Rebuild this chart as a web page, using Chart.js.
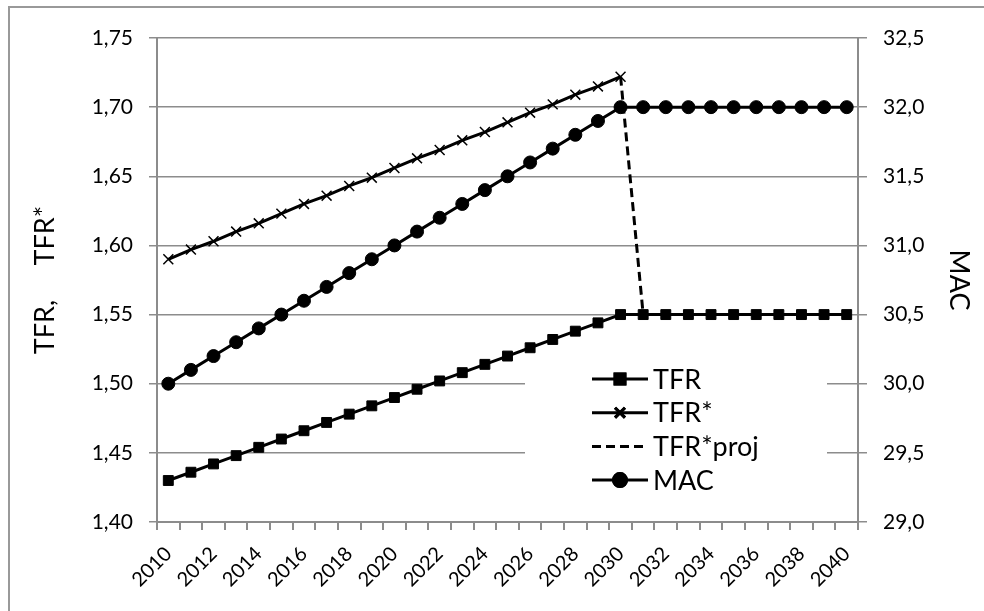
<!DOCTYPE html>
<html>
<head>
<meta charset="utf-8">
<script src="https://cdn.jsdelivr.net/npm/chart.js@4"></script>
<style>
  html, body { margin: 0; padding: 0; background: #fff; overflow: hidden; }
  canvas { display: block; }
</style>
</head>
<body>
<canvas id="myChart" width="984" height="611"></canvas>
<script>
var years = ['2010','2011','2012','2013','2014','2015','2016','2017','2018','2019','2020',
             '2021','2022','2023','2024','2025','2026','2027','2028','2029','2030',
             '2031','2032','2033','2034','2035','2036','2037','2038','2039','2040'];

var tfr = [1.430,1.436,1.442,1.448,1.454,1.460,1.466,1.472,1.478,1.484,1.490,
           1.496,1.502,1.508,1.514,1.520,1.526,1.532,1.538,1.544,1.550,
           1.550,1.550,1.550,1.550,1.550,1.550,1.550,1.550,1.550,1.550];

var tfrStar = [1.590,1.597,1.603,1.610,1.616,1.623,1.630,1.636,1.643,1.649,1.656,
               1.663,1.669,1.676,1.682,1.689,1.696,1.702,1.709,1.715,1.722,
               null,null,null,null,null,null,null,null,null,null];

var tfrStarProj = [null,null,null,null,null,null,null,null,null,null,null,
                   null,null,null,null,null,null,null,null,null,1.722,
                   1.550,1.550,1.550,1.550,1.550,1.550,1.550,1.550,1.550,1.550];

var mac = [30.0,30.1,30.2,30.3,30.4,30.5,30.6,30.7,30.8,30.9,31.0,
           31.1,31.2,31.3,31.4,31.5,31.6,31.7,31.8,31.9,32.0,
           32.0,32.0,32.0,32.0,32.0,32.0,32.0,32.0,32.0,32.0];

var gridColor = '#8c8c8c';
Chart.defaults.font.family = 'Lato';
Chart.defaults.color = '#000';

// white background + frame on top/left
const framePlugin = {
  id: 'frame',
  beforeDraw(chart) {
    const ctx = chart.ctx;
    ctx.save();
    ctx.fillStyle = '#fff';
    ctx.fillRect(0, 0, chart.width, chart.height);
    ctx.strokeStyle = '#999';
    ctx.lineWidth = 2;
    ctx.beginPath();
    ctx.moveTo(9, chart.height + 5);
    ctx.lineTo(9, 7);
    ctx.lineTo(chart.width + 5, 7);
    ctx.stroke();
    ctx.restore();
  }
};

// legend drawn inside the plot area
const innerLegend = {
  id: 'innerLegend',
  afterDraw(chart) {
    const ctx = chart.ctx;
    const area = chart.chartArea;
    const x0 = area.left + 368, y0 = 355;
    ctx.save();
    ctx.fillStyle = '#fff';
    ctx.fillRect(x0, y0, 302, 145);
    const lx1 = x0 + 67, lx2 = x0 + 123;
    chart.data.datasets.forEach(function (ds, i) {
      const y = 379 + i * 33.7;
      ctx.strokeStyle = '#000';
      ctx.lineWidth = 3;
      ctx.setLineDash(ds.borderDash || []);
      ctx.beginPath();
      ctx.moveTo(lx1, y);
      ctx.lineTo(lx2, y);
      ctx.stroke();
      ctx.setLineDash([]);
      if (ds.pointStyle && ds.pointRadius > 0) {
        Chart.helpers.drawPoint(ctx, {
          pointStyle: ds.pointStyle,
          radius: ds.pointRadius,
          borderWidth: ds.pointBorderWidth || 1,
          rotation: 0
        }, (lx1 + lx2) / 2, y);
        ctx.fillStyle = '#000';
        ctx.strokeStyle = '#000';
        ctx.fill();
        ctx.stroke();
      }
      ctx.fillStyle = '#000';
      ctx.font = '27px Lato';
      ctx.textBaseline = 'middle';
      ctx.textAlign = 'left';
      ctx.fillText(ds.label, lx2 + 5, y + 1);
    });
    ctx.restore();
  }
};

const data = {
  labels: years,
  datasets: [{
    label: 'TFR',
    data: tfr,
    yAxisID: 'y',
    borderColor: '#000',
    backgroundColor: '#000',
    borderWidth: 3,
    pointStyle: 'rect',
    pointRadius: 7,
    pointBorderWidth: 1,
    pointBackgroundColor: '#000',
    pointBorderColor: '#000',
    tension: 0
  }, {
    label: 'TFR*',
    data: tfrStar,
    yAxisID: 'y',
    borderColor: '#000',
    backgroundColor: '#000',
    borderWidth: 3,
    pointStyle: 'crossRot',
    pointRadius: 7,
    pointBorderWidth: 1.5,
    pointBorderColor: '#000',
    tension: 0
  }, {
    label: 'TFR*proj',
    data: tfrStarProj,
    yAxisID: 'y',
    borderColor: '#000',
    borderWidth: 3,
    borderDash: [9, 5],
    pointRadius: 0,
    tension: 0
  }, {
    label: 'MAC',
    data: mac,
    yAxisID: 'y1',
    borderColor: '#000',
    backgroundColor: '#000',
    borderWidth: 3,
    pointStyle: 'circle',
    pointRadius: 6.5,
    pointBorderWidth: 1,
    pointBackgroundColor: '#000',
    pointBorderColor: '#000',
    tension: 0
  }]
};

const config = {
  type: 'line',
  data: data,
  plugins: [framePlugin, innerLegend],
  options: {
    responsive: false,
    animation: false,
    events: [],
    layout: { padding: { top: 38, right: 0, bottom: 0, left: 0 } },
    plugins: {
      legend: { display: false },
      tooltip: { enabled: false }
    },
    scales: {
      x: {
        offset: true,
        grid: {
          offset: true,
          drawOnChartArea: false,
          color: gridColor,
          lineWidth: 2,
          tickLength: 8
        },
        border: { color: gridColor, width: 2 },
        ticks: {
          autoSkip: false,
          minRotation: 45,
          maxRotation: 45,
          padding: 12,
          font: { size: 20 },
          callback: function (value, index) {
            return index % 2 === 0 ? this.getLabelForValue(value) : '';
          }
        },
        afterFit: function (scale) { scale.height = 89; }
      },
      y: {
        position: 'left',
        min: 1.40,
        max: 1.75,
        grid: { color: gridColor, lineWidth: 1.5, tickLength: 8 },
        border: { color: gridColor, width: 2 },
        ticks: {
          stepSize: 0.05,
          padding: 16,
          font: { size: 21 },
          callback: function (v) { return v.toFixed(2).replace('.', ','); }
        },
        title: {
          display: true,
          text: 'TFR,     TFR*',
          font: { size: 27 },
          padding: { top: 29, bottom: 0 }
        },
        afterFit: function (scale) { scale.width = 157; }
      },
      y1: {
        position: 'right',
        min: 29.0,
        max: 32.5,
        grid: { drawOnChartArea: false, color: gridColor, lineWidth: 1.5, tickLength: 9 },
        border: { color: gridColor, width: 2 },
        ticks: {
          stepSize: 0.5,
          padding: 16,
          font: { size: 21 },
          callback: function (v) { return v.toFixed(1).replace('.', ','); }
        },
        title: {
          display: true,
          text: 'MAC',
          font: { size: 27 },
          padding: { top: 9, bottom: 0 }
        },
        afterFit: function (scale) { scale.width = 126; }
      }
    }
  }
};

const myChart = new Chart(document.getElementById('myChart'), config);
</script>
</body>
</html>
